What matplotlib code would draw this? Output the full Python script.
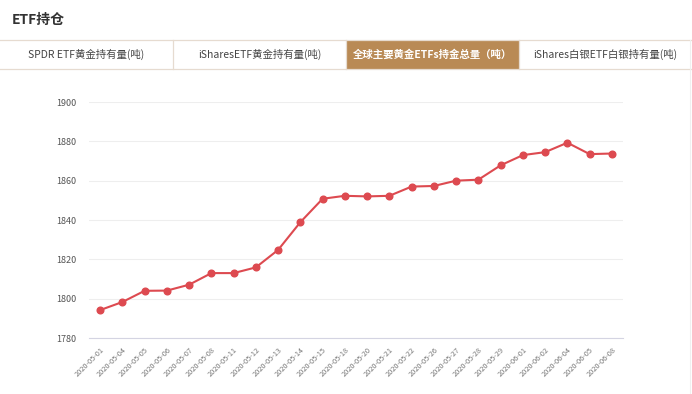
import matplotlib
matplotlib.use("Agg")
import matplotlib.pyplot as plt
from matplotlib.patches import Rectangle

plt.rcParams['font.family'] = ['Noto Sans CJK SC', 'DejaVu Sans']

title = "ETF持仓"
tabs = ["SPDR ETF黄金持有量(吨)", "iSharesETF黄金持有量(吨)",
        "全球主要黄金ETFs持金总量（吨）", "iShares白银ETF白银持有量(吨)"]
active_tab = 2

dates = ["2020-05-01", "2020-05-04", "2020-05-05", "2020-05-06", "2020-05-07",
         "2020-05-08", "2020-05-11", "2020-05-12", "2020-05-13", "2020-05-14",
         "2020-05-15", "2020-05-18", "2020-05-20", "2020-05-21", "2020-05-22",
         "2020-05-26", "2020-05-27", "2020-05-28", "2020-05-29", "2020-06-01",
         "2020-06-02", "2020-06-04", "2020-06-05", "2020-06-08"]
holdings = [1794.2, 1798.3, 1804.0, 1804.1, 1807.1, 1813.0, 1813.0, 1815.9,
            1824.8, 1838.9, 1850.8, 1852.3, 1852.0, 1852.3, 1857.0, 1857.3,
            1860.0, 1860.5, 1867.8, 1873.0, 1874.5, 1879.3, 1873.5, 1873.8]
yticks = [1780, 1800, 1820, 1840, 1860, 1880, 1900]

W, H = 692, 394
fig = plt.figure(figsize=(W / 100, H / 100), dpi=100)
fig.patch.set_facecolor("white")

# header and tab bar (pixel coords via a full-figure overlay axes)
bg = fig.add_axes([0, 0, 1, 1])
bg.set_xlim(0, W)
bg.set_ylim(H, 0)
bg.axis("off")
bg.text(12, 20, title, fontsize=10, fontweight="bold", color="#333333",
        va="center", ha="left")

tab_top, tab_bot = 40, 69
tab_w = W / len(tabs)
border = "#e6dbd0"
bg.plot([0, W], [tab_top, tab_top], color=border, lw=0.9)
bg.plot([0, W], [tab_bot, tab_bot], color=border, lw=0.9)
for i, name in enumerate(tabs):
    x0 = i * tab_w
    if i == active_tab:
        bg.add_patch(Rectangle((x0, tab_top), tab_w, tab_bot - tab_top,
                               facecolor="#b98a55", edgecolor="none"))
        bg.text(x0 + tab_w / 2, (tab_top + tab_bot) / 2, name, fontsize=7.5,
                fontweight="bold", color="white", ha="center", va="center")
    else:
        bg.text(x0 + tab_w / 2, (tab_top + tab_bot) / 2, name, fontsize=7.5,
                color="#444444", ha="center", va="center")
    if i > 0:
        bg.plot([x0, x0], [tab_top, tab_bot], color=border, lw=0.9)
bg.plot([W - 2, W - 2], [tab_top, H], color="#f0f0f0", lw=0.8)

# chart
ax = fig.add_axes([89 / W, 1 - 338 / H, (623 - 89) / W, (338 - 102) / H])
x = range(len(dates))
ax.plot(x, holdings, color="#dd4a50", lw=1.5, marker="o", markersize=4.8,
        markeredgecolor="#dd4a50", zorder=3)
ax.set_xlim(-0.5, len(dates) - 0.5)
ax.set_ylim(yticks[0], yticks[-1])
ax.set_yticks(yticks)
ax.set_xticks(list(x))
ax.set_xticklabels(dates, rotation=45, ha="right", rotation_mode="anchor")
ax.grid(axis="y", color="#eeeeee", lw=0.8)
ax.set_axisbelow(True)
for s in ["top", "right", "left"]:
    ax.spines[s].set_visible(False)
ax.spines["bottom"].set_color("#d4d4e2")
ax.tick_params(axis="y", length=0, labelsize=6.5, labelcolor="#555555", pad=9)
ax.tick_params(axis="x", length=0, labelsize=5.3, labelcolor="#777777", pad=6)

fig.savefig("out.png", dpi=100)
